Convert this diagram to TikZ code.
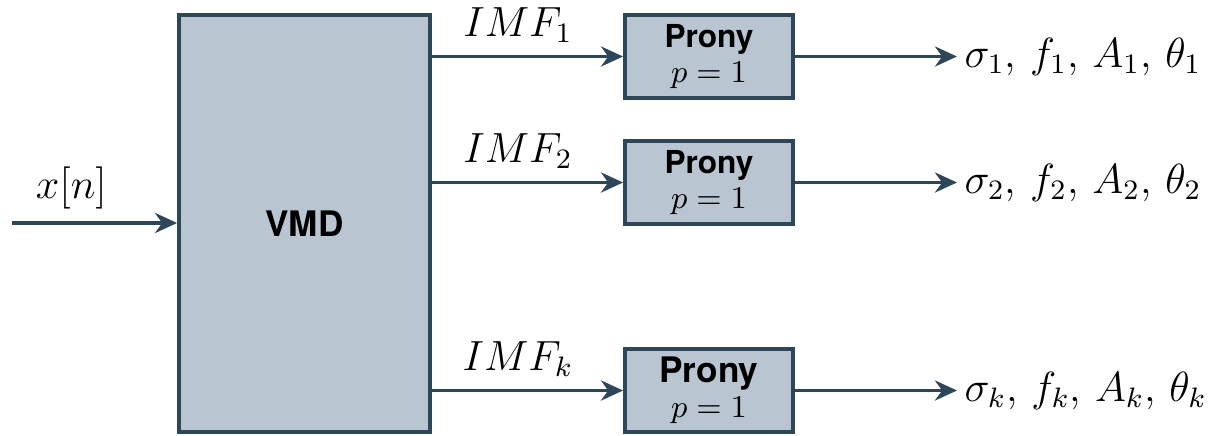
\documentclass[tikz,border=0pt]{standalone}
\usepackage{fontspec}
\setsansfont{TeX Gyre Heros}
\usetikzlibrary{arrows.meta}
\definecolor{boxfill}{RGB}{185,198,210}
\definecolor{boxline}{RGB}{45,70,88}
\tikzset{
  block/.style={draw=boxline,line width=1.1pt,fill=boxfill,font=\sffamily\bfseries,align=center,inner sep=0pt},
  sig/.style={-{Stealth[length=2.2mm,width=2mm]},line width=1.1pt,draw=boxline},
}
\begin{document}
\begin{tikzpicture}
  \useasboundingbox (0,0) rectangle (12.15,4.35);
  \node[block,minimum width=2.51cm,minimum height=4.17cm] (vmd) at (3.045,2.115) {VMD};
  \coordinate (in) at (0.12,2.12);
  \draw[sig] (in) -- node[above,pos=0.36,font=\large] {$x[n]$} (vmd.west |- in);

  \foreach \i/\y/\fs in {1/3.785/\small,2/2.525/\small,k/0.445/\normalsize} {
    \node[block,minimum width=1.68cm,minimum height=0.83cm] (prony\i) at (7.09,\y)
      {\fs Prony\\[-2pt] \small\mdseries $p=1$};
    \node[anchor=west,font=\large,inner sep=2pt] (par\i) at (9.57,\y) {$\sigma_\i$, $f_\i$, $A_\i$, $\theta_\i$};
    \draw[sig] (prony\i.west -| vmd.east) -- node[above,pos=0.45,font=\large] {$IMF_\i$} (prony\i.west);
    \draw[sig] (prony\i) -- (par\i);
  }
\end{tikzpicture}
\end{document}
